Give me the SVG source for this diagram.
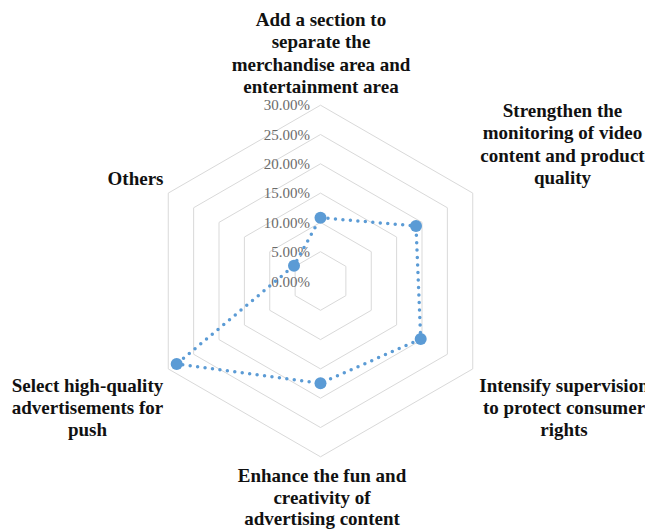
<svg xmlns="http://www.w3.org/2000/svg" width="645" height="529" viewBox="0 0 645 529">
<style>
.grid{fill:none;stroke:#d9d9d9;stroke-width:1}
.tick{font-family:"Liberation Serif","Times New Roman",serif;font-size:15px;fill:#6b6b6b;text-anchor:end}
.cat{font-family:"Liberation Serif","Times New Roman",serif;font-size:19px;font-weight:bold;fill:#111;text-anchor:middle}
.series{fill:none;stroke:#5b9bd5;stroke-width:3.5;stroke-linecap:round;stroke-dasharray:0 7.5}
.pt{fill:#5b9bd5}
</style>
<rect width="645" height="529" fill="#fff"/>
<g id="grid">
<polygon class="grid" points="320.5,251.7 345.87,266.35 345.87,295.65 320.5,310.3 295.13,295.65 295.13,266.35"/>
<polygon class="grid" points="320.5,222.4 371.25,251.7 371.25,310.3 320.5,339.6 269.75,310.3 269.75,251.7"/>
<polygon class="grid" points="320.5,193.1 396.62,237.05 396.62,324.95 320.5,368.9 244.38,324.95 244.38,237.05"/>
<polygon class="grid" points="320.5,163.8 422,222.4 422,339.6 320.5,398.2 219,339.6 219,222.4"/>
<polygon class="grid" points="320.5,134.5 447.37,207.75 447.37,354.25 320.5,427.5 193.63,354.25 193.63,207.75"/>
<polygon class="grid" points="320.5,105.2 472.75,193.1 472.75,368.9 320.5,456.8 168.25,368.9 168.25,193.1"/>
</g>
<g id="axis-ticks">
<text class="tick" x="310" y="286.5">0.00%</text>
<text class="tick" x="310" y="257">5.00%</text>
<text class="tick" x="310" y="227.6">10.00%</text>
<text class="tick" x="310" y="198.3">15.00%</text>
<text class="tick" x="310" y="169">20.00%</text>
<text class="tick" x="310" y="139.7">25.00%</text>
<text class="tick" x="310" y="110.4">30.00%</text>
</g>
<g id="connectors">
<polygon class="series" points="320.5,217.7 416,226 420.7,339 320.5,383.3 176.7,364 294,265.7"/>
</g>
<g id="data-points">
<circle class="pt" cx="320.5" cy="217.7" r="6"/>
<circle class="pt" cx="416" cy="226" r="6"/>
<circle class="pt" cx="420.7" cy="339" r="6"/>
<circle class="pt" cx="320.5" cy="383.3" r="6"/>
<circle class="pt" cx="176.7" cy="364" r="6"/>
<circle class="pt" cx="294" cy="265.7" r="6"/>
</g>
<g id="label-add-section">
<text class="cat" x="321" y="26">Add a section to</text>
<text class="cat" x="321" y="48.3">separate the</text>
<text class="cat" x="321" y="70.6">merchandise area and</text>
<text class="cat" x="321" y="92.9">entertainment area</text>
</g>
<g id="label-strengthen">
<text class="cat" x="562.5" y="117">Strengthen the</text>
<text class="cat" x="562.5" y="139.3">monitoring of video</text>
<text class="cat" x="562.5" y="161.6">content and product</text>
<text class="cat" x="562.5" y="183.9">quality</text>
</g>
<g id="label-intensify">
<text class="cat" x="564" y="392.3">Intensify supervision</text>
<text class="cat" x="564" y="414.3">to protect consumer</text>
<text class="cat" x="564" y="436.3">rights</text>
</g>
<g id="label-enhance">
<text class="cat" x="322" y="481.7">Enhance the fun and</text>
<text class="cat" x="322" y="503.5">creativity of</text>
<text class="cat" x="322" y="525.3">advertising content</text>
</g>
<g id="label-select">
<text class="cat" x="87.5" y="391.7">Select high-quality</text>
<text class="cat" x="87.5" y="413.7">advertisements for</text>
<text class="cat" x="87.5" y="435.7">push</text>
</g>
<g id="label-others">
<text class="cat" x="135.5" y="185">Others</text>
</g>
</svg>
